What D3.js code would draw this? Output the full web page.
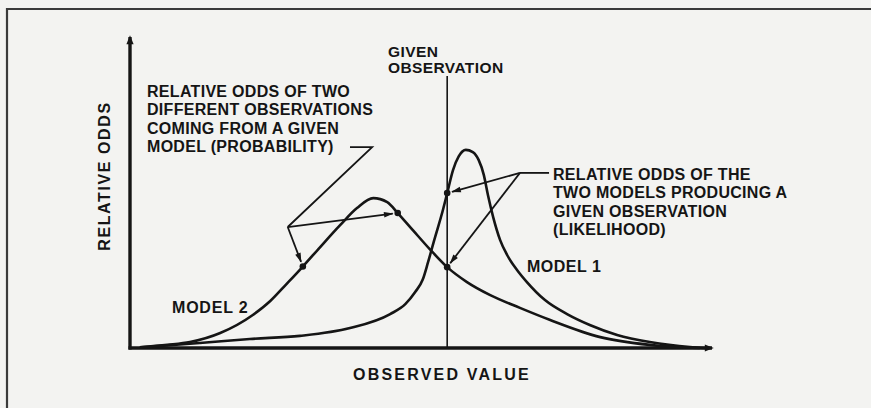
<!DOCTYPE html>
<html>
<head>
<meta charset="utf-8">
<script src="https://cdn.jsdelivr.net/npm/d3@7"></script>
<style>
  html, body { margin: 0; padding: 0; background: #f3f3f1; }
  svg { display: block; }
  text { font-family: "Liberation Sans", Arial, sans-serif; font-weight: bold; fill: #151515; }
</style>
</head>
<body>
<svg id="chart" width="871" height="408"></svg>
<script>
// Model 1: narrow, tall peak just past the given observation
const model1X = [1.7, 12.0, 20.6, 29.2, 37.8, 44.7, 47.3, 49.0, 50.3, 51.2, 52.2, 53.8, 54.5, 55.5, 56.5, 57.7, 58.9, 59.9, 60.8, 61.5, 62.4, 63.6, 64.8, 66.5, 68.2, 71.3, 75.1, 79.0, 83.7, 89.3, 96.2, 98.8];
const model1Y = [0.2, 1.6, 2.9, 3.9, 6.4, 10.9, 14.1, 18.0, 22.0, 27.5, 34.2, 44.6, 49.8, 57.2, 61.7, 63.7, 63.0, 60.5, 55.6, 49.2, 42.1, 34.7, 29.9, 25.1, 21.2, 15.4, 10.9, 7.4, 4.2, 1.9, 0.3, 0.0];

// Model 2: broader, lower peak to the left
const model2X = [1.7, 6.4, 10.3, 15.5, 21.1, 24.1, 26.8, 29.7, 32.6, 36.1, 39.0, 41.8, 44.2, 46.0, 48.6, 51.5, 54.5, 57.9, 61.9, 67.0, 72.2, 80.8, 89.3, 97.9];
const model2Y = [0.2, 1.0, 1.9, 4.8, 10.6, 15.1, 20.4, 26.2, 32.3, 39.5, 45.0, 48.2, 46.9, 43.4, 37.9, 31.8, 26.0, 21.2, 17.0, 12.9, 9.0, 3.5, 1.0, 0.0];

// The observed value under discussion
const givenObservation = 54.5;
// Two observations compared under model 2
const probabilityPoints = [29.7, 46.0];

// Text blocks
const axisXTitle = "OBSERVED VALUE";
const axisYTitle = "RELATIVE ODDS";
const givenLabel = ["GIVEN", "OBSERVATION"];
const probabilityLabel = ["RELATIVE ODDS OF TWO", "DIFFERENT OBSERVATIONS", "COMING FROM A GIVEN", "MODEL (PROBABILITY)"];
const likelihoodLabel = ["RELATIVE ODDS OF THE", "TWO MODELS PRODUCING A", "GIVEN OBSERVATION", "(LIKELIHOOD)"];
const seriesNames = ["MODEL 1", "MODEL 2"];

const svg = d3.select("#chart");
const ink = "#151515";

const x = d3.scaleLinear().domain([0, 100]).range([130, 712]);
const y = d3.scaleLinear().domain([0, 100]).range([348, 37]);

// page frame (top and left rules)
svg.append("path")
  .attr("d", "M7,408 V9 H871")
  .attr("fill", "none").attr("stroke", "#3a3a3a").attr("stroke-width", 2.2);

const defs = svg.append("defs");
defs.append("marker")
  .attr("id", "tip").attr("viewBox", "0 -5 12 10")
  .attr("refX", 11).attr("refY", 0)
  .attr("markerWidth", 11).attr("markerHeight", 8)
  .attr("markerUnits", "userSpaceOnUse").attr("orient", "auto")
  .append("path").attr("d", "M0,-3.6 L12,0 L0,3.6 Z").attr("fill", ink);

defs.append("marker")
  .attr("id", "axisTip").attr("viewBox", "0 -5 10 10")
  .attr("refX", 8).attr("refY", 0)
  .attr("markerWidth", 10).attr("markerHeight", 9)
  .attr("markerUnits", "userSpaceOnUse").attr("orient", "auto")
  .append("path").attr("d", "M0,-4 L10,0 L0,4 Z").attr("fill", ink);

// axes drawn with d3-axis, ticks suppressed
const gx = svg.append("g").attr("transform", `translate(0,${y(0)})`)
  .call(d3.axisBottom(x).tickValues([]).tickSizeOuter(0));
const gy = svg.append("g").attr("transform", `translate(${x(0)},0)`)
  .call(d3.axisLeft(y).tickValues([]).tickSizeOuter(0));
[gx, gy].forEach(g => g.select(".domain").remove());

svg.append("line")
  .attr("x1", x(0) - 1.5).attr("y1", y(0)).attr("x2", x(100)).attr("y2", y(0))
  .attr("stroke", ink).attr("stroke-width", 3.4).attr("marker-end", "url(#axisTip)");
svg.append("line")
  .attr("x1", x(0)).attr("y1", y(0) + 1.5).attr("x2", x(0)).attr("y2", y(100))
  .attr("stroke", ink).attr("stroke-width", 3.4).attr("marker-end", "url(#axisTip)");

// given observation rule
svg.append("line")
  .attr("x1", x(givenObservation)).attr("x2", x(givenObservation))
  .attr("y1", y(0)).attr("y2", y(87.5))
  .attr("stroke", ink).attr("stroke-width", 1.6);

// curves
const line = d3.line().x(d => x(d[0])).y(d => y(d[1])).curve(d3.curveMonotoneX);
const m1 = model1X.map((v, i) => [v, model1Y[i]]);
const m2 = model2X.map((v, i) => [v, model2Y[i]]);
[m1, m2].forEach(pts => {
  svg.append("path").attr("d", line(pts))
    .attr("fill", "none").attr("stroke", ink).attr("stroke-width", 2.6)
    .attr("stroke-linejoin", "round");
});

// value lookup on a series by linear interpolation between read points
function valueAt(xs, ys, v) {
  const i = d3.bisectLeft(xs, v);
  if (xs[i] === v) return ys[i];
  const t = (v - xs[i - 1]) / (xs[i] - xs[i - 1]);
  return ys[i - 1] + t * (ys[i] - ys[i - 1]);
}

const p2a = [probabilityPoints[0], valueAt(model2X, model2Y, probabilityPoints[0])];
const p2b = [probabilityPoints[1], valueAt(model2X, model2Y, probabilityPoints[1])];
const g1 = [givenObservation, valueAt(model1X, model1Y, givenObservation)];
const g2 = [givenObservation, valueAt(model2X, model2Y, givenObservation)];

// dots on the curves
[p2a, p2b, g1, g2].forEach(p => {
  svg.append("circle").attr("cx", x(p[0])).attr("cy", y(p[1])).attr("r", 3.3).attr("fill", ink);
});

// leader lines with arrowheads stopping just short of each dot
function shorten(from, to, px) {
  const dx = to[0] - from[0], dy = to[1] - from[1];
  const len = Math.hypot(dx, dy);
  return [to[0] - dx / len * px, to[1] - dy / len * px];
}
function leader(points) {
  svg.append("polyline").attr("points", points.map(p => p.join(",")).join(" "))
    .attr("fill", "none").attr("stroke", ink).attr("stroke-width", 1.8).attr("stroke-linejoin", "miter");
}
function arrow(from, toData) {
  const to = [x(toData[0]), y(toData[1])];
  const end = shorten(from, to, 5);
  svg.append("line").attr("x1", from[0]).attr("y1", from[1]).attr("x2", end[0]).attr("y2", end[1])
    .attr("stroke", ink).attr("stroke-width", 1.8).attr("marker-end", "url(#tip)");
}

// probability callout
const pJoin = [x(27.1), y(38.9)];
leader([[x(37.8), y(64.6)], [x(41.6), y(64.6)], pJoin]);
arrow(pJoin, p2a);
arrow(pJoin, p2b);

// likelihood callout
const lJoin = [x(67.0), y(56.3)];
leader([[x(72.0), y(56.3)], lJoin]);
arrow(lJoin, g1);
arrow(lJoin, g2);

// text
function block(lines, x0, y0, dy, size, spacing) {
  const t = svg.append("text").attr("x", x0).attr("y", y0)
    .style("font-size", size + "px").style("letter-spacing", spacing + "px");
  lines.forEach((s, i) => t.append("tspan").attr("x", x0).attr("y", y0 + i * dy).text(s));
}
block(givenLabel, 388, 57, 15.5, 15.5, 0.4);
block(probabilityLabel, 147, 97, 18.3, 16, 0.3);
block(likelihoodLabel, 553, 180, 18.3, 16, 0.3);

svg.append("text").attr("x", 527).attr("y", 272).style("font-size", "16px").style("letter-spacing", "0.5px").text(seriesNames[0]);
svg.append("text").attr("x", 172).attr("y", 313).style("font-size", "16px").style("letter-spacing", "0.8px").text(seriesNames[1]);

svg.append("text").attr("x", 442).attr("y", 380).attr("text-anchor", "middle")
  .style("font-size", "16px").style("letter-spacing", "2.2px").text(axisXTitle);

svg.append("text").attr("transform", "translate(110,176) rotate(-90)").attr("text-anchor", "middle")
  .style("font-size", "16px").style("letter-spacing", "1.6px").text(axisYTitle);
</script>
</body>
</html>
